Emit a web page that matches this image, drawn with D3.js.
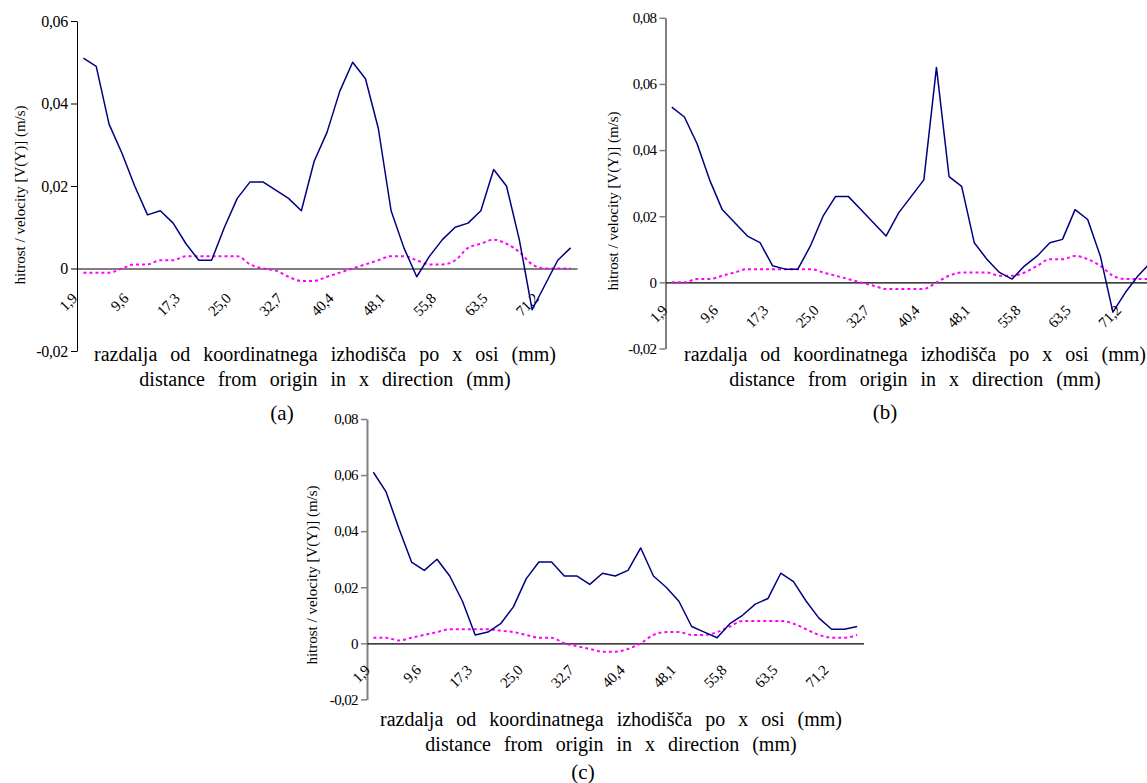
<!DOCTYPE html>
<html>
<head>
<meta charset="utf-8">
<script src="https://cdn.jsdelivr.net/npm/d3@7"></script>
</head>
<body style="margin:0;background:#fff">
<svg id="chart" width="1147" height="783" font-family="Liberation Serif"></svg>
<script>
// ---------- data ----------
const categories = ["1,9","3,8","5,8","7,7","9,6","11,5","13,5","15,4","17,3","19,2","21,2","23,1","25,0","26,9","28,9","30,8","32,7","34,6","36,6","38,5","40,4","42,3","44,3","46,2","48,1","50,0","52,0","53,9","55,8","57,7","59,7","61,6","63,5","65,4","67,4","69,3","71,2","73,1","75,1"];
const tickLabels = ["1,9","9,6","17,3","25,0","32,7","40,4","48,1","55,8","63,5","71,2"];

const seriesA_solid = [0.051,0.049,0.035,0.028,0.020,0.013,0.014,0.011,0.006,0.002,0.002,0.010,0.017,0.021,0.021,0.019,0.017,0.014,0.026,0.033,0.043,0.050,0.046,0.034,0.014,0.005,-0.002,0.003,0.007,0.010,0.011,0.014,0.024,0.020,0.007,-0.010,-0.004,0.002,0.005];
const seriesA_dotted = [-0.001,-0.001,-0.001,0.000,0.001,0.001,0.002,0.002,0.003,0.003,0.003,0.003,0.003,0.001,0.000,-0.0005,-0.002,-0.003,-0.003,-0.002,-0.001,0.000,0.001,0.002,0.003,0.003,0.002,0.001,0.001,0.002,0.005,0.006,0.007,0.006,0.004,0.001,0.000,0.000,0.000];

const seriesB_solid = [0.053,0.050,0.042,0.031,0.022,0.018,0.014,0.012,0.005,0.004,0.004,0.011,0.020,0.026,0.026,0.022,0.018,0.014,0.021,0.026,0.031,0.065,0.032,0.029,0.012,0.007,0.003,0.001,0.005,0.008,0.012,0.013,0.022,0.019,0.008,-0.009,-0.003,0.002,0.006];
const seriesB_dotted = [0.000,0.000,0.001,0.001,0.002,0.003,0.004,0.004,0.004,0.004,0.004,0.004,0.003,0.002,0.001,0.000,-0.001,-0.002,-0.002,-0.002,-0.002,0.000,0.002,0.003,0.003,0.003,0.002,0.002,0.003,0.005,0.007,0.007,0.008,0.007,0.005,0.002,0.001,0.001,0.001];

const seriesC_solid = [0.061,0.054,0.041,0.029,0.026,0.030,0.024,0.015,0.003,0.004,0.007,0.013,0.023,0.029,0.029,0.024,0.024,0.021,0.025,0.024,0.026,0.034,0.024,0.020,0.015,0.006,0.004,0.002,0.007,0.010,0.014,0.016,0.025,0.022,0.015,0.009,0.005,0.005,0.006];
const seriesC_dotted = [0.002,0.002,0.001,0.002,0.003,0.004,0.005,0.005,0.005,0.005,0.0045,0.004,0.003,0.002,0.002,0.000,-0.001,-0.002,-0.003,-0.003,-0.002,0.000,0.003,0.004,0.004,0.003,0.003,0.004,0.006,0.008,0.008,0.008,0.008,0.007,0.005,0.003,0.002,0.002,0.003];

const yTicksA = [-0.02, 0, 0.02, 0.04, 0.06];
const yTicksBC = [-0.02, 0, 0.02, 0.04, 0.06, 0.08];

const yTitle = "hitrost / velocity [V(Y)] (m/s)";
const xTitle1 = "razdalja od koordinatnega izhodišča po x osi (mm)";
const xTitle2 = "distance from origin in x direction (mm)";
const panelLetters = ["(a)", "(b)", "(c)"];

// ---------- layout ----------
const FONT = "Liberation Serif";
const panels = [
  { solid: seriesA_solid, dotted: seriesA_dotted, ticks: yTicksA, letter: panelLetters[0],
    xr: [77, 577], yd: [-0.02, 0.06], yr: [351, 21], axisColor: "#000", axisW: 1, tickFont: 16,
    lblDx: -6, lblDy: 31, yTitle: [25, 195], xTitleC: 325, xT1: 361, xT2: 385.5, letterPos: [282, 420] },
  { solid: seriesB_solid, dotted: seriesB_dotted, ticks: yTicksBC, letter: panelLetters[1],
    xr: [665.5, 1157], yd: [-0.02, 0.08], yr: [348.5, 17.8], axisColor: "#808080", axisW: 2, tickFont: 15,
    lblDx: -4, lblDy: 29, yTitle: [618, 201], xTitleC: 915, xT1: 361, xT2: 386, letterPos: [885, 419] },
  { solid: seriesC_solid, dotted: seriesC_dotted, ticks: yTicksBC, letter: panelLetters[2],
    xr: [367, 863.5], yd: [-0.02, 0.08], yr: [699.4, 419], axisColor: "#808080", axisW: 2, tickFont: 15,
    lblDx: -3, lblDy: 28, yTitle: [317, 575], xTitleC: 611, xT1: 726, xT2: 751, letterPos: [583, 779] }
];

const svg = d3.select("#chart");
const fmt = d => d === 0 ? "0" : d3.format(".2f")(d).replace(".", ",").replace("\u2212", "-");

panels.forEach(p => {
  const g = svg.append("g");
  const x = d3.scalePoint().domain(categories).range(p.xr).padding(0.5);
  const y = d3.scaleLinear().domain(p.yd).range(p.yr);

  // y axis
  const ya = g.append("g")
    .attr("transform", `translate(${p.xr[0]},0)`)
    .call(d3.axisLeft(y).tickValues(p.ticks).tickFormat(fmt).tickSize(6).tickSizeOuter(0).tickPadding(3));
  ya.attr("font-family", FONT).attr("font-size", p.tickFont);
  ya.select(".domain").attr("stroke", p.axisColor).attr("stroke-width", p.axisW);
  ya.selectAll(".tick line").attr("stroke", p.axisColor).attr("stroke-width", p.axisW === 1 ? 1 : 1.5);
  ya.selectAll(".tick text")
    .attr("font-family", FONT)
    .attr("font-size", p.tickFont)
    .attr("letter-spacing", p.tickFont === 16 ? -0.3 : -0.6)
    .attr("fill", "#000");

  // x axis at zero (the zero line)
  const xa = g.append("g")
    .attr("transform", `translate(0,${y(0)})`)
    .call(d3.axisBottom(x).tickValues(tickLabels).tickSize(0).tickSizeOuter(0));
  xa.attr("font-family", FONT).attr("font-size", 15);
  xa.select(".domain").attr("stroke", "#000").attr("stroke-width", 1.2);
  xa.selectAll(".tick text")
    .attr("y", 0).attr("dy", 0)
    .attr("text-anchor", "end")
    .attr("transform", `translate(${p.lblDx},${p.lblDy}) rotate(-45)`)
    .attr("font-family", FONT)
    .attr("font-size", 15)
    .attr("letter-spacing", -0.4)
    .attr("fill", "#000");

  // lines
  const line = d3.line().x((d, i) => x(categories[i])).y(d => y(d));
  g.append("path").datum(p.dotted)
    .attr("d", line.curve(d3.curveMonotoneX))
    .attr("fill", "none").attr("stroke", "#ff00ff").attr("stroke-width", 2)
    .attr("stroke-dasharray", "3,3");
  g.append("path").datum(p.solid)
    .attr("d", line.curve(d3.curveLinear))
    .attr("fill", "none").attr("stroke", "#000080").attr("stroke-width", 1.5)
    .attr("stroke-linejoin", "round");

  // y title
  g.append("text")
    .attr("transform", `translate(${p.yTitle[0]},${p.yTitle[1]}) rotate(-90)`)
    .attr("text-anchor", "middle")
    .attr("font-family", FONT)
    .attr("font-size", 15)
    .text(yTitle);

  // x titles
  g.append("text").attr("x", p.xTitleC).attr("y", p.xT1)
    .attr("text-anchor", "middle").attr("font-family", FONT).attr("font-size", 20).attr("word-spacing", 8)
    .text(xTitle1);
  g.append("text").attr("x", p.xTitleC).attr("y", p.xT2)
    .attr("text-anchor", "middle").attr("font-family", FONT).attr("font-size", 20).attr("word-spacing", 8)
    .text(xTitle2);

  // panel letter
  g.append("text").attr("x", p.letterPos[0]).attr("y", p.letterPos[1])
    .attr("text-anchor", "middle").attr("font-family", FONT).attr("font-size", 21)
    .text(p.letter);
});
</script>
</body>
</html>
